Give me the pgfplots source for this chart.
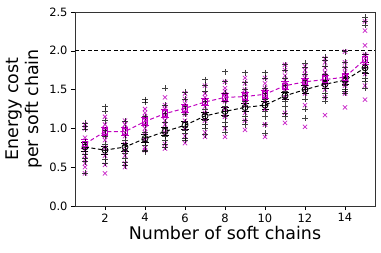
\documentclass[border=0pt]{standalone}
\usepackage{pgfplots}
\pgfplotsset{compat=1.18}
\usepackage{pgfplotstable}
\usepackage{fontspec}
\setmainfont{DejaVu Sans}
\definecolor{mag}{rgb}{0.75,0,0.75}

\pgfplotstableread{
x y
1 1.07
1 1.02
1 0.99
1 0.82
1 0.76
1 0.70
1 0.66
1 0.61
1 0.57
1 0.42
2 1.28
2 1.22
2 1.10
2 0.98
2 0.90
2 0.80
2 0.72
2 0.66
2 0.60
2 0.55
3 1.09
3 1.00
3 0.92
3 0.85
3 0.78
3 0.72
3 0.68
3 0.62
3 0.56
3 0.52
4 1.37
4 1.34
4 1.15
4 1.05
4 0.95
4 0.88
4 0.83
4 0.78
4 0.72
4 0.70
5 1.52
5 1.30
5 1.20
5 1.08
5 1.00
5 0.95
5 0.90
5 0.85
5 0.80
5 0.76
6 1.47
6 1.38
6 1.28
6 1.18
6 1.08
6 1.02
6 0.98
6 0.93
6 0.87
6 0.85
7 1.63
7 1.56
7 1.48
7 1.35
7 1.25
7 1.18
7 1.10
7 1.05
7 1.00
7 0.92
8 1.73
8 1.60
8 1.45
8 1.35
8 1.28
8 1.22
8 1.15
8 1.08
8 1.02
8 0.95
9 1.72
9 1.59
9 1.50
9 1.42
9 1.35
9 1.28
9 1.22
9 1.15
9 1.10
9 1.05
10 1.72
10 1.65
10 1.52
10 1.45
10 1.38
10 1.30
10 1.22
10 1.15
10 1.05
10 0.94
11 1.82
11 1.75
11 1.65
11 1.55
11 1.48
11 1.40
11 1.35
11 1.28
11 1.20
11 1.15
12 1.84
12 1.78
12 1.70
12 1.62
12 1.55
12 1.50
12 1.45
12 1.38
12 1.25
12 1.13
13 1.92
13 1.88
13 1.80
13 1.70
13 1.62
13 1.58
13 1.52
13 1.45
13 1.40
13 1.35
14 1.99
14 1.85
14 1.78
14 1.70
14 1.65
14 1.60
14 1.55
14 1.50
14 1.48
14 1.45
15 2.43
15 2.38
15 2.33
15 1.95
15 1.85
15 1.78
15 1.72
15 1.65
15 1.60
15 1.52
}\blackpts

\pgfplotstableread{
x y
1 1.05
1 1.00
1 0.88
1 0.80
1 0.72
1 0.65
1 0.60
1 0.55
1 0.50
1 0.42
2 1.15
2 1.05
2 1.00
2 0.95
2 0.90
2 0.85
2 0.75
2 0.65
2 0.53
2 0.42
3 1.10
3 1.05
3 1.00
3 0.95
3 0.90
3 0.80
3 0.72
3 0.65
3 0.55
3 0.50
4 1.25
4 1.20
4 1.15
4 1.10
4 1.05
4 1.00
4 0.95
4 0.85
4 0.75
4 0.72
5 1.40
5 1.30
5 1.25
5 1.20
5 1.15
5 1.10
5 1.05
5 0.95
5 0.80
5 0.74
6 1.45
6 1.38
6 1.32
6 1.28
6 1.22
6 1.18
6 1.10
6 1.00
6 0.90
6 0.81
7 1.55
7 1.45
7 1.40
7 1.36
7 1.32
7 1.28
7 1.20
7 1.10
7 0.95
7 0.89
8 1.60
8 1.52
8 1.48
8 1.44
8 1.40
8 1.35
8 1.25
8 1.15
8 1.00
8 0.89
9 1.65
9 1.58
9 1.50
9 1.45
9 1.40
9 1.35
9 1.30
9 1.20
9 1.10
9 0.98
10 1.65
10 1.58
10 1.52
10 1.48
10 1.44
10 1.40
10 1.35
10 1.25
10 1.05
10 0.89
11 1.82
11 1.75
11 1.68
11 1.62
11 1.58
11 1.55
11 1.50
11 1.40
11 1.20
11 1.07
12 1.80
12 1.75
12 1.70
12 1.65
12 1.60
12 1.58
12 1.52
12 1.45
12 1.30
12 1.02
13 1.90
13 1.85
13 1.78
13 1.72
13 1.68
13 1.62
13 1.58
13 1.50
13 1.40
13 1.17
14 1.99
14 1.85
14 1.78
14 1.72
14 1.68
14 1.65
14 1.60
14 1.55
14 1.45
14 1.27
15 2.38
15 2.26
15 2.07
15 1.95
15 1.90
15 1.85
15 1.80
15 1.70
15 1.55
15 1.37
}\magpts

\pgfplotstableread{
x y e
1 0.76 0.06
2 0.72 0.05
3 0.76 0.05
4 0.87 0.05
5 0.96 0.05
6 1.04 0.05
7 1.16 0.05
8 1.22 0.05
9 1.27 0.05
10 1.30 0.05
11 1.42 0.05
12 1.50 0.05
13 1.57 0.05
14 1.62 0.05
15 1.78 0.07
}\blackmean

\pgfplotstableread{
x y e
1 0.80 0.06
2 0.96 0.05
3 0.96 0.05
4 1.09 0.05
5 1.19 0.05
6 1.26 0.05
7 1.34 0.05
8 1.40 0.05
9 1.41 0.05
10 1.44 0.05
11 1.55 0.05
12 1.60 0.05
13 1.63 0.05
14 1.66 0.05
15 1.89 0.07
}\magmean

\begin{document}
\begin{tikzpicture}
\begin{axis}[
  scale only axis,
  width=300bp, height=194bp,
  xmin=0.5, xmax=15.5,
  ymin=0, ymax=2.5,
  xtick={2,4,...,14},
  ytick={0,0.5,...,2.5},
  yticklabel style={/pgf/number format/.cd,fixed,fixed zerofill,precision=1},
  /pgf/number format/assume math mode=true,
  tick align=outside,
  xtick pos=bottom, ytick pos=left,
  major tick length=4bp,
  tick style={black, line width=0.6pt},
  ticklabel style={font=\fontsize{11.5}{13}\selectfont},
  xlabel={Number of soft chains},
  ylabel={Energy cost\\per soft chain},
  ylabel style={align=center, font=\fontsize{17.5}{20}\selectfont},
  xlabel style={font=\fontsize{17.5}{20}\selectfont, yshift=3bp},
  axis line style={line width=0.8pt, black!80},
  clip=false,
]
\addplot[domain=0.5:15.5, samples=2, black, dashed, line width=1pt, dash pattern=on 4bp off 2.5bp] {2};
\addplot[only marks, mark=x, mark size=3bp, mag, opacity=0.85, mark options={line width=0.75pt}] table[x=x,y=y] {\magpts};
\addplot[only marks, mark=+, mark size=3bp, black, opacity=0.75, mark options={line width=0.75pt}] table[x=x,y=y] {\blackpts};
\addplot[black, dashed, line width=1pt, dash pattern=on 4bp off 2.5bp, mark=o, mark size=3bp, mark options={solid, line width=0.8pt},
  error bars/.cd, y dir=both, y explicit, error bar style={solid, line width=0.8pt}, error mark options={rotate=90, mark size=3.5bp, line width=0.8pt}]
  table[x=x, y=y, y error=e] {\blackmean};
\addplot[mag, dashed, line width=1pt, dash pattern=on 4bp off 2.5bp, mark=square, mark size=2.8bp, mark options={solid, line width=0.8pt},
  error bars/.cd, y dir=both, y explicit, error bar style={solid, line width=0.8pt}, error mark options={rotate=90, mark size=3.5bp, line width=0.8pt}]
  table[x=x, y=y, y error=e] {\magmean};
\end{axis}
\path ([xshift=-75bp, yshift=-47bp]current axis.south west) rectangle ([xshift=6bp, yshift=12bp]current axis.north east);
\end{tikzpicture}
\end{document}
